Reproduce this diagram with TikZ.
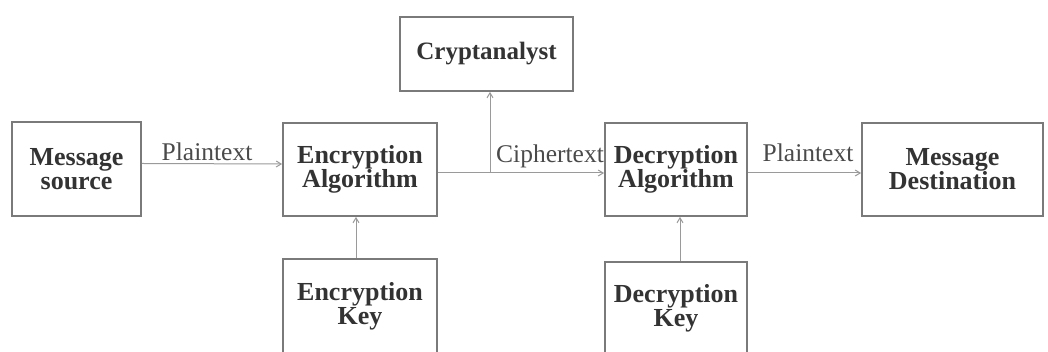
\documentclass[tikz,border=0pt]{standalone}
\usepackage{fontspec}
\setmainfont{Liberation Serif}
\usetikzlibrary{arrows.meta,calc}
\definecolor{boxline}{HTML}{7A7A7A}
\definecolor{arrline}{HTML}{9A9A9A}
\definecolor{boxtext}{HTML}{333333}
\definecolor{labtext}{HTML}{4A4A4A}
\tikzset{
  blk/.style={draw=boxline, line width=1.8pt, rectangle, inner sep=0pt, align=center,
    text=boxtext, font=\fontsize{26}{24}\selectfont\bfseries},
  arr/.style={draw=arrline, line width=1pt, -{Straight Barb[length=5pt,width=6pt]}},
  lab/.style={text=labtext, font=\fontsize{25.5}{26}\selectfont, inner sep=0pt}
}
\begin{document}
\begin{tikzpicture}[x=1pt,y=1pt]
\useasboundingbox (0,0) rectangle (1048,352);
\node[blk, minimum width=129pt, minimum height=94pt] (src) at (76.5,183) {Message\\source};
\node[blk, minimum width=154pt, minimum height=93pt] (enc) at (360,182.5) {Encryption\\Algorithm};
\node[blk, minimum width=154pt, minimum height=94pt] (ekey) at (360,46) {Encryption\\Key};
\node[blk, minimum width=173pt, minimum height=74pt, font=\fontsize{25}{24}\selectfont\bfseries] (crypt) at (486.5,298) {Cryptanalyst};
\node[blk, minimum width=142pt, minimum height=93pt] (dec) at (676,182.5) {Decryption\\Algorithm};
\node[blk, minimum width=142pt, minimum height=92pt] (dkey) at (676,44) {Decryption\\Key};
\node[blk, minimum width=181pt, minimum height=93pt] (dest) at (952.5,182.5) {Message\\Destination};
\coordinate (br) at (490,179);
\draw[arr] ([yshift=5.5pt]src.east) -- ([yshift=5.5pt]enc.west);
\draw[arr] ([yshift=-3.5pt]enc.east) -- ([yshift=-3.5pt]dec.west);
\draw[arr] (br) -- (br |- crypt.south);
\draw[arr] ([yshift=-3.5pt]dec.east) -- ([yshift=-3.5pt]dest.west);
\draw[arr] ([xshift=-4pt]ekey.north) -- ([xshift=-4pt]enc.south);
\draw[arr] ([xshift=4pt]dkey.north) -- ([xshift=4pt]dec.south);
\node[lab] (l1) at (207,200) {Plaintext};
\node[lab] (l2) at (550,196) {Ciphertext};
\node[lab] (l3) at (808,199) {Plaintext};
\end{tikzpicture}
\end{document}
